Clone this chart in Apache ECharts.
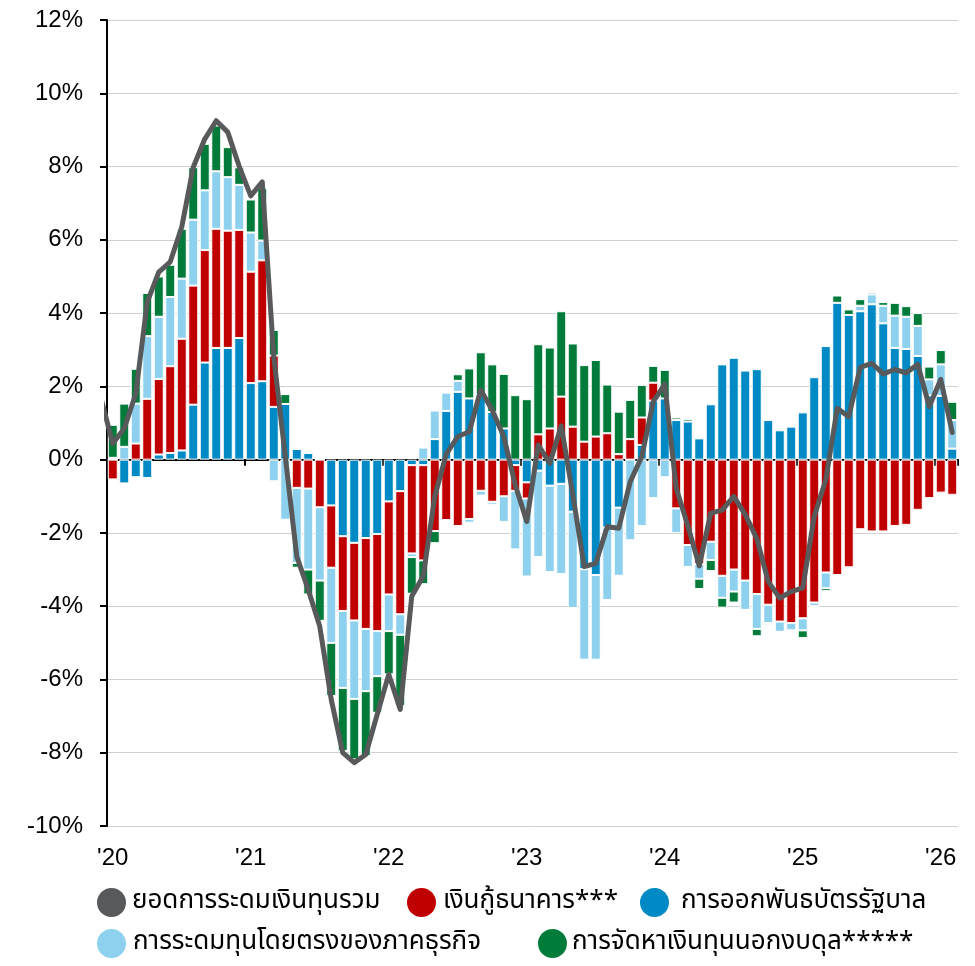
<!DOCTYPE html>
<html>
<head>
<meta charset="utf-8">
<script src="https://cdn.jsdelivr.net/npm/echarts@6/dist/echarts.min.js"></script>
<style>
  html, body { margin: 0; padding: 0; background: #fff; }
  #chart { width: 975px; height: 966px; }
</style>
</head>
<body>
<div id="chart"></div>
<script>
// เดือน ม.ค. 2020 - ก.พ. 2026
const months = [
  '2020-01','2020-02','2020-03','2020-04','2020-05','2020-06','2020-07','2020-08','2020-09','2020-10','2020-11','2020-12',
  '2021-01','2021-02','2021-03','2021-04','2021-05','2021-06','2021-07','2021-08','2021-09','2021-10','2021-11','2021-12',
  '2022-01','2022-02','2022-03','2022-04','2022-05','2022-06','2022-07','2022-08','2022-09','2022-10','2022-11','2022-12',
  '2023-01','2023-02','2023-03','2023-04','2023-05','2023-06','2023-07','2023-08','2023-09','2023-10','2023-11','2023-12',
  '2024-01','2024-02','2024-03','2024-04','2024-05','2024-06','2024-07','2024-08','2024-09','2024-10','2024-11','2024-12',
  '2025-01','2025-02','2025-03','2025-04','2025-05','2025-06','2025-07','2025-08','2025-09','2025-10','2025-11','2025-12',
  '2026-01','2026-02'
]

// ยอดการระดมเงินทุนรวม (%) - ค่า ธ.ค. 2019 ถูกตัดที่ขอบซ้ายของกราฟ
const totalDec2019 = 1.65
const total = [
  0.44, 0.85, 1.8, 4.3, 5.12, 5.4, 6.35, 7.98, 8.75, 9.25, 8.94, 8.0,
  7.2, 7.58, 2.8, 0.1, -2.64, -3.55, -4.55, -6.55, -8.0, -8.27, -8.05, -6.95,
  -5.86, -6.82, -3.73, -3.18, -1.0, 0.15, 0.63, 0.76, 1.9, 1.35, 0.63, -0.69,
  -1.69, 0.4, -0.1, 0.92, -0.95, -2.92, -2.83, -1.83, -1.87, -0.6, 0.08, 1.58,
  2.06, -0.78, -1.8, -2.9, -1.46, -1.38, -1.0, -1.5, -2.15, -3.33, -3.78, -3.6,
  -3.5, -1.55, -0.55, 1.4, 1.17, 2.52, 2.63, 2.34, 2.46, 2.37, 2.6, 1.45,
  2.19, 0.74
]

// การออกพันธบัตรรัฐบาล
const govBonds = [
  0, -0.65, -0.48, -0.5, 0.14, 0.18, 0.25, 1.5, 2.65, 3.05, 3.05, 3.32,
  2.09, 2.14, 1.44, 1.52, 0.29, 0.18, 0, -1.25, -2.09, -2.27, -2.14, -2.03,
  -1.14, -0.86, -0.15, -0.15, 0.56, 1.33, 1.85, 1.67, 1.75, 1.3, 0.85, -0.15,
  -0.62, -0.3, -0.71, -0.66, -1.42, -2.99, -3.15, -1.85, -1.31, 0, 0.4, 1.61,
  1.67, 1.08, 1.04, 0.58, 1.51, 2.6, 2.78, 2.43, 2.47, 1.08, 0.8, 0.9,
  1.29, 2.25, 3.1, 4.28, 3.95, 4.05, 4.24, 3.72, 3.05, 3.02, 2.83, 1.75,
  1.74, 0.3
]

// เงินกู้ธนาคาร
const bankLoans = [
  -0.54, 0, 0.44, 1.66, 2.06, 2.37, 3.05, 3.25, 3.07, 3.25, 3.2, 2.95,
  3.04, 3.3, 1.4, 0, -0.77, -0.79, -1.3, -1.7, -2.04, -2.12, -2.48, -2.65,
  -2.54, -3.36, -2.41, -2.6, -1.95, -1.65, -1.81, -1.62, -0.85, -1.15, -1.0, -0.7,
  -0.44, 0.69, 0.85, 1.72, 0.9, 0.49, 0.63, 0.72, 0.15, 0.56, 0.75, 0.49,
  0, -1.33, -2.33, -2.85, -2.24, -3.17, -3.0, -3.3, -3.67, -3.96, -4.42, -4.46,
  -4.33, -3.9, -3.08, -3.15, -2.94, -1.9, -1.96, -1.96, -1.81, -1.78, -1.37, -1.05,
  -0.9, -0.96
]

// การระดมทุนโดยตรงของภาคธุรกิจ
const directFunding = [
  0.05, 0.35, 1.09, 1.71, 1.7, 1.89, 1.64, 1.8, 1.63, 1.57, 1.46, 1.23,
  1.07, 0.54, -0.59, -1.64, -2.05, -2.21, -2.0, -2.05, -2.1, -2.14, -1.7, -1.23,
  -1.0, -0.56, -0.1, 0.33, 0.78, 0.5, 0.3, -0.1, -0.13, -0.08, -0.7, -1.6,
  -2.13, -2.36, -2.36, -2.46, -2.63, -2.47, -2.31, -1.98, -1.86, -2.2, -1.81, -1.05,
  -0.48, -0.67, -0.6, -0.4, -0.5, -0.6, -0.6, -0.8, -0.95, -0.5, -0.28, -0.2,
  -0.33, -0.1, -0.43, 0, 0, 0.15, 0.27, 0.48, 0.88, 0.88, 0.82, 0.44,
  0.86, 0.78
]

// การจัดหาเงินทุนนอกงบดุล
const offBalance = [
  0.9, 1.18, 0.95, 1.18, 1.1, 0.88, 1.36, 1.43, 1.27, 1.25, 0.82, 0.48,
  0.9, 1.43, 0.7, 0.27, -0.13, -0.68, -1.1, -1.45, -1.72, -1.65, -1.77, -1.0,
  -1.18, -1.94, -1.0, -0.65, -0.33, 0, 0.18, 0.82, 1.18, 1.3, 1.49, 1.76,
  1.65, 2.46, 2.21, 2.33, 2.27, 2.09, 2.09, 1.33, 1.16, 1.07, 0.89, 0.46,
  0.78, 0.07, 0.07, -0.28, -0.3, -0.27, -0.3, 0, -0.2, -0.05, 0, 0,
  -0.21, 0, -0.08, 0.2, 0.15, 0.18, 0.05, 0.1, 0.35, 0.29, 0.35, 0.35,
  0.39, 0.5
]

const nameTotal = 'ยอดการระดมเงินทุนรวม'
const nameLoans = 'เงินกู้ธนาคาร***'
const nameBonds = 'การออกพันธบัตรรัฐบาล'
const nameDirect = 'การระดมทุนโดยตรงของภาคธุรกิจ'
const nameOff = 'การจัดหาเงินทุนนอกงบดุล*****'

const latinFont = 'Arial, "Liberation Sans", sans-serif'
const thaiFont = '"Noto Sans Thai", Tahoma, "DejaVu Sans", "Noto Sans", sans-serif'

function yearStart(i) {
  return i % 12 === 0
}

function barSeries(name, data, color) {
  return {
    name: name,
    type: 'bar',
    stack: 'all',
    data: data,
    barWidth: 10,
    itemStyle: {color: color, borderColor: '#fff', borderWidth: 1},
    emphasis: {disabled: true}
  }
}

// แต่ละ legend วางตำแหน่งเอง
function legendAt(name, left, top, gap) {
  return {
    data: [name],
    left: left,
    top: top,
    icon: 'circle',
    itemWidth: 29,
    itemHeight: 29,
    itemStyle: {borderWidth: 0},
    selectedMode: false,
    textStyle: {fontFamily: thaiFont, fontSize: 26, color: '#000', padding: [7, 0, 0, gap]}
  }
}

// เส้นยอดรวม วางบนแกนค่า (ซ่อน) ให้ตรงกับกึ่งกลางแท่ง
const totalPoints = [[-1, totalDec2019]].concat(total.map((v, i) => [i, v]))

const chart = echarts.init(document.getElementById('chart'), null, {renderer: 'canvas'})

chart.setOption({
  animation: false,
  backgroundColor: '#fff',
  grid: {left: 107, right: 17, top: 20, bottom: 140},
  legend: [
    legendAt(nameTotal, 92, 883, 1),
    legendAt(nameLoans, 402, 883, 2),
    legendAt(nameBonds, 635, 883, 7),
    legendAt(nameDirect, 92, 924, 2),
    legendAt(nameOff, 533, 924, 0)
  ],
  xAxis: [
    {
      type: 'category',
      data: months,
      axisLine: {onZero: true, lineStyle: {color: '#000', width: 2}},
      axisTick: {show: true, interval: (i) => yearStart(i), length: 6, lineStyle: {color: '#000', width: 2}},
      axisLabel: {show: false},
      splitLine: {show: false}
    },
    {
      type: 'category',
      data: months,
      position: 'bottom',
      axisLine: {show: false, onZero: false},
      axisTick: {show: false},
      axisLabel: {
        interval: (i) => yearStart(i),
        formatter: (v) => "'" + v.slice(2, 4),
        fontFamily: latinFont,
        fontSize: 24,
        color: '#000',
        margin: 20
      }
    },
    {
      type: 'value',
      min: -0.5,
      max: months.length - 0.5,
      show: false,
      axisLine: {onZero: false}
    }
  ],
  yAxis: {
    type: 'value',
    min: -10,
    max: 12,
    interval: 2,
    position: 'left',
    axisLine: {show: true, onZero: false, lineStyle: {color: '#000', width: 2}},
    axisTick: {show: true, length: 7, lineStyle: {color: '#000', width: 2}},
    axisLabel: {formatter: '{value}%', fontFamily: latinFont, fontSize: 24, color: '#000', margin: 24},
    splitLine: {show: true, lineStyle: {color: '#d0d0d0', width: 1}}
  },
  series: [
    barSeries(nameBonds, govBonds, '#008ac5'),
    barSeries(nameLoans, bankLoans, '#c00000'),
    barSeries(nameDirect, directFunding, '#8ed1ee'),
    barSeries(nameOff, offBalance, '#007b3a'),
    {
      name: nameTotal,
      type: 'line',
      xAxisIndex: 2,
      data: totalPoints,
      clip: true,
      symbol: 'none',
      z: 10,
      lineStyle: {color: '#58595b', width: 5, join: 'round', cap: 'round'},
      itemStyle: {color: '#58595b'},
      emphasis: {disabled: true}
    }
  ]
})
</script>
</body>
</html>
